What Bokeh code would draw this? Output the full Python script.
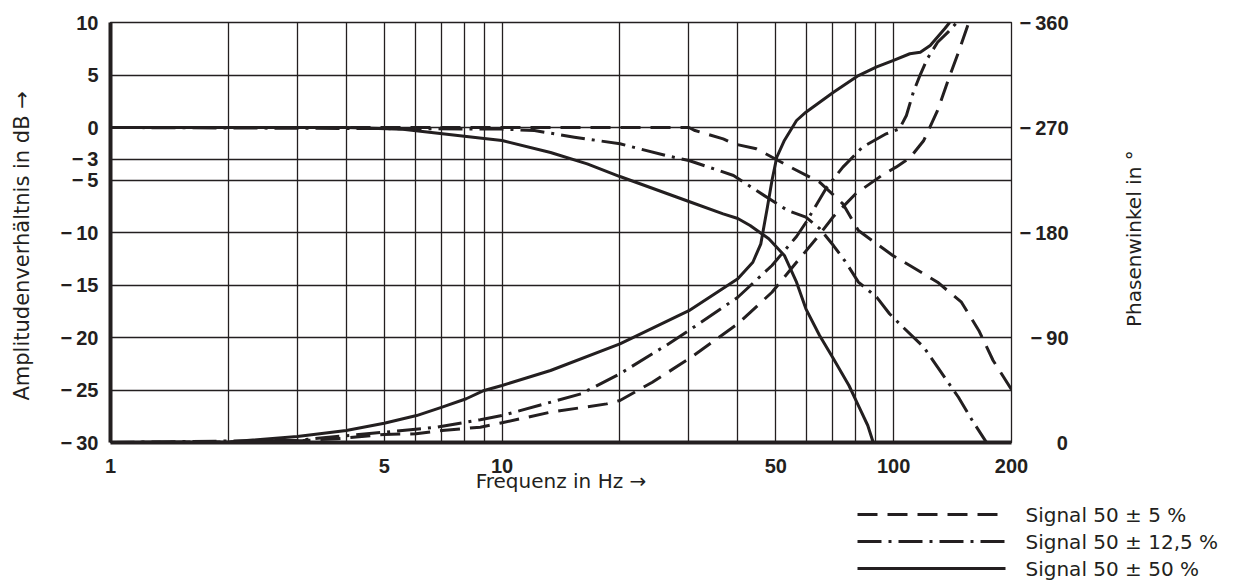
import math

from bokeh.embed import file_html
from bokeh.layouts import column
from bokeh.models import FixedTicker, LinearAxis, Range1d
from bokeh.plotting import figure
from bokeh.resources import INLINE

# ---- measured response of the filter for three signal deviations ----
# amplitude ratio (dB) over frequency (Hz)
amp5_freq = [1, 30, 31.1, 36.7, 39.0, 44.6, 47.1, 55.5, 64.7, 74.2, 81.3, 90.5,
             99.5, 110, 129.5, 149, 165, 179.5, 200]
amp5_db = [0, 0, -0.29, -1.08, -1.55, -2.03, -2.5, -3.93, -5.21, -7.27, -9.81,
           -11.08, -12.19, -13.14, -14.73, -16.64, -19.33, -22.19, -24.95]

amp12_freq = [1, 10, 12.1, 15.3, 20, 26.2, 30, 39, 44.6, 53.6, 59.7, 64.7, 70.2,
              75.5, 81.3, 90.5, 97.6, 105.7, 119.4, 129.5, 146.4, 158.8, 172.4]
amp12_db = [0, -0.15, -0.29, -0.92, -1.55, -2.67, -3.14, -4.57, -6.0, -7.9, -8.54,
            -9.62, -11.24, -12.83, -14.73, -16.16, -17.74, -19.02, -20.92, -22.83,
            -25.69, -27.9, -29.97]

amp50_freq = [1, 4, 5.58, 9, 10, 13.3, 16.5, 20, 30, 36.7, 40, 43.0, 48.0, 52.6,
              56.5, 59.7, 64.7, 70.2, 76.9, 81.3, 85.9, 88.7]
amp50_db = [0, 0, -0.16, -1.05, -1.24, -2.38, -3.46, -4.67, -7.05, -8.22, -8.67,
            -9.33, -10.6, -12.19, -14.73, -17.27, -19.81, -22.03, -24.57, -26.48,
            -28.38, -30]

# phase angle (degrees) over frequency (Hz)
ph5_freq = [1, 2, 3.1, 3.79, 5, 6.03, 7.03, 8.8, 10, 13.3, 18.5, 20, 24.2, 30, 40,
            48.9, 56.5, 63.4, 70.2, 80, 94.0, 101.4, 110, 119.4, 129.5, 139.2,
            146.4, 155.6]
ph5_deg = [0, -0.5, -1.7, -3.2, -6.9, -7.5, -10.3, -13.1, -16.9, -26, -33.1, -36,
           -51.7, -71.7, -101.7, -128.8, -154.5, -174.6, -193.7, -213.2, -229.7,
           -236, -243.9, -258.9, -284.6, -314.6, -334.5, -360]

ph12_freq = [1, 3, 5, 6.8, 8.8, 10, 15.9, 20, 26.2, 30, 40, 48.9, 56.5, 59.7, 67.5,
             74.2, 83.2, 95.7, 103.5, 107.8, 112.3, 117, 121.9, 129.5, 137.7, 144.9]
ph12_deg = [0, -2, -8.8, -13.1, -19.5, -23.1, -41.7, -58.9, -83.1, -96, -124.5,
            -151.7, -176.6, -188.6, -218.8, -236, -253.1, -264.6, -268.9, -280.3,
            -300.3, -315.4, -328.9, -343.1, -351.7, -360]

ph50_freq = [1, 2, 3, 4, 5, 6.05, 7.03, 8.1, 9, 10, 13.3, 20, 30, 40, 43.7, 45.8,
             47.6, 48.9, 50.3, 52.6, 56.5, 59.7, 70.2, 81.3, 90.5, 99.6, 110, 117,
             124, 135, 139]
ph50_deg = [0, -0.5, -5.1, -10.3, -16.5, -23.1, -30.3, -37.5, -44.6, -48.9, -61.7,
            -84.6, -113, -140.3, -154.5, -170.3, -201.7, -224.6, -244.5, -258.9,
            -276, -283.1, -300.2, -314.5, -321.9, -327.4, -333.2, -334.5, -340.3,
            -354.6, -360]

# ---- axes ----
freq_grid = [1, 2, 3, 4, 5, 6, 7, 8, 9, 10, 20, 30, 40, 50, 60, 70, 80, 90, 100, 200]
freq_ticks = [1, 5, 10, 50, 100, 200]
freq_labels = ["1", "5", "10", "50", "100", "200"]
db_ticks = [-30, -25, -20, -15, -10, -5, -3, 0, 5, 10]
db_labels = ["\u2212\u200930", "\u2212\u200925", "\u2212\u200920", "\u2212\u200915",
             "\u2212\u200910", "\u2212\u20095", "\u2212\u20093", "0", "5", "10"]
phase_ticks = [0, -90, -180, -270, -360]
# figure spaces keep the phase labels flush right
phase_labels = ["\u2007\u2007\u2007\u20090", "\u2007\u2212\u200990",
                "\u2212\u2009180", "\u2212\u2009270", "\u2212\u2009360"]
phase_title = "Phasenwinkel in \u00b0"

series_labels = ["Signal 50 \u00b1 5 %", "Signal 50 \u00b1 12,5 %", "Signal 50 \u00b1 50 %"]

INK = "#231f20"
TEXT_FONT = "DejaVu Sans"
TICK_FONT = "Liberation Sans"

p = figure(width=1243, height=500, x_axis_type="log",
           x_range=Range1d(1, 200), y_range=Range1d(-30, 10),
           output_backend="svg", toolbar_location=None,
           min_border_left=110, min_border_right=232,
           min_border_top=22, min_border_bottom=58)
p.title.visible = False
p.extra_y_ranges = {"phase": Range1d(start=0, end=-360)}
p.background_fill_color = "white"
p.border_fill_color = "white"
p.outline_line_color = INK
p.outline_line_width = 1.3
p.outline_line_alpha = 1.0

# grid
p.xgrid.ticker = FixedTicker(ticks=freq_grid)
p.ygrid.ticker = FixedTicker(ticks=db_ticks)
for g in (p.xgrid, p.ygrid):
    g.grid_line_color = INK
    g.grid_line_width = 1.3
    g.grid_line_alpha = 1.0

freq_axis = p.xaxis[0]
amp_axis = p.yaxis[0]
freq_axis.ticker = FixedTicker(ticks=freq_ticks)
freq_axis.major_label_overrides = dict(zip(freq_ticks, freq_labels))
amp_axis.ticker = FixedTicker(ticks=db_ticks)
amp_axis.major_label_overrides = dict(zip(db_ticks, db_labels))

# phase axis on the right
phase_axis = LinearAxis(y_range_name="phase", ticker=FixedTicker(ticks=phase_ticks))
phase_axis.major_label_overrides = dict(zip(phase_ticks, phase_labels))
p.add_layout(phase_axis, "right")

for ax in (freq_axis, amp_axis, phase_axis):
    ax.axis_line_width = 4
    ax.axis_line_color = INK
    ax.major_tick_line_color = None
    ax.minor_tick_line_color = None
    ax.major_label_text_font = TICK_FONT
    ax.major_label_text_font_style = "bold"
    ax.major_label_text_font_size = "20px"
    ax.major_label_text_color = INK
    ax.axis_label_text_font = TEXT_FONT
    ax.axis_label_text_font_style = "normal"
    ax.axis_label_text_font_size = "21px"
    ax.axis_label_text_color = INK
phase_axis.axis_line_color = None
phase_axis.major_label_standoff = 2

freq_axis.major_label_standoff = 10
freq_axis.axis_label = "Frequenz in Hz \u2192"
freq_axis.axis_label_text_font_size = "20px"
freq_axis.axis_label_standoff = -7

amp_axis.major_label_standoff = 6
amp_axis.axis_label = "Amplitudenverh\u00e4ltnis in dB \u2192\u2007\u2007"
amp_axis.axis_label_standoff = 24

# title of the phase scale, written bottom-to-top beside it;
# the text starts at the single tick (-19 dB level) and runs upwards
title_tick = -19
title_axis = LinearAxis(ticker=FixedTicker(ticks=[title_tick]))
title_axis.major_label_overrides = {title_tick: phase_title}
title_axis.major_label_orientation = math.pi / 2
title_axis.axis_line_color = None
title_axis.major_tick_line_color = None
title_axis.minor_tick_line_color = None
title_axis.major_label_standoff = 56
title_axis.major_label_text_font = TEXT_FONT
title_axis.major_label_text_font_size = "20px"
title_axis.major_label_text_color = INK
p.add_layout(title_axis, "right")

# curves
styles = [dict(line_dash="20 10"), dict(line_dash="24 7 3 7"), dict(line_dash="solid")]
amp_sets = [(amp5_freq, amp5_db), (amp12_freq, amp12_db), (amp50_freq, amp50_db)]
ph_sets = [(ph5_freq, ph5_deg), (ph12_freq, ph12_deg), (ph50_freq, ph50_deg)]

for (fa, da), (fp, dp), st in zip(amp_sets, ph_sets, styles):
    p.line(fa, da, line_width=3, line_color=INK, line_join="round", **st)
    p.line(fp, dp, y_range_name="phase", line_width=3, line_color=INK,
           line_join="round", **st)

# key for the three line styles, in a strip below the chart; the strip's
# plotting area lines up with the chart's, its coordinates run in pixels
key = figure(width=1243, height=87, x_range=Range1d(110, 1011), y_range=Range1d(87, 0),
             output_backend="svg", toolbar_location=None,
             x_axis_location=None, y_axis_location=None,
             min_border_left=110, min_border_right=232,
             min_border_top=0, min_border_bottom=0, outline_line_color=None)
key.title.visible = False
key.grid.visible = False
key.background_fill_color = "white"
key.border_fill_color = "white"

key_rows = [14, 41, 68]
key_sample_x = [857, 1005]
for row, st in zip(key_rows, styles):
    key.line(key_sample_x, [row, row], line_width=3, line_color=INK, **st)

# the series names sit on an axis at the strip's right edge
key_axis = LinearAxis(ticker=FixedTicker(ticks=key_rows))
key_axis.major_label_overrides = dict(zip(key_rows, series_labels))
key_axis.axis_line_color = None
key_axis.major_tick_line_color = None
key_axis.minor_tick_line_color = None
key_axis.major_label_standoff = 8
key_axis.major_label_text_font = TEXT_FONT
key_axis.major_label_text_font_size = "20px"
key_axis.major_label_text_color = INK
key.add_layout(key_axis, "right")

open("out.html", "w").write(file_html(column(p, key, spacing=0), INLINE))
